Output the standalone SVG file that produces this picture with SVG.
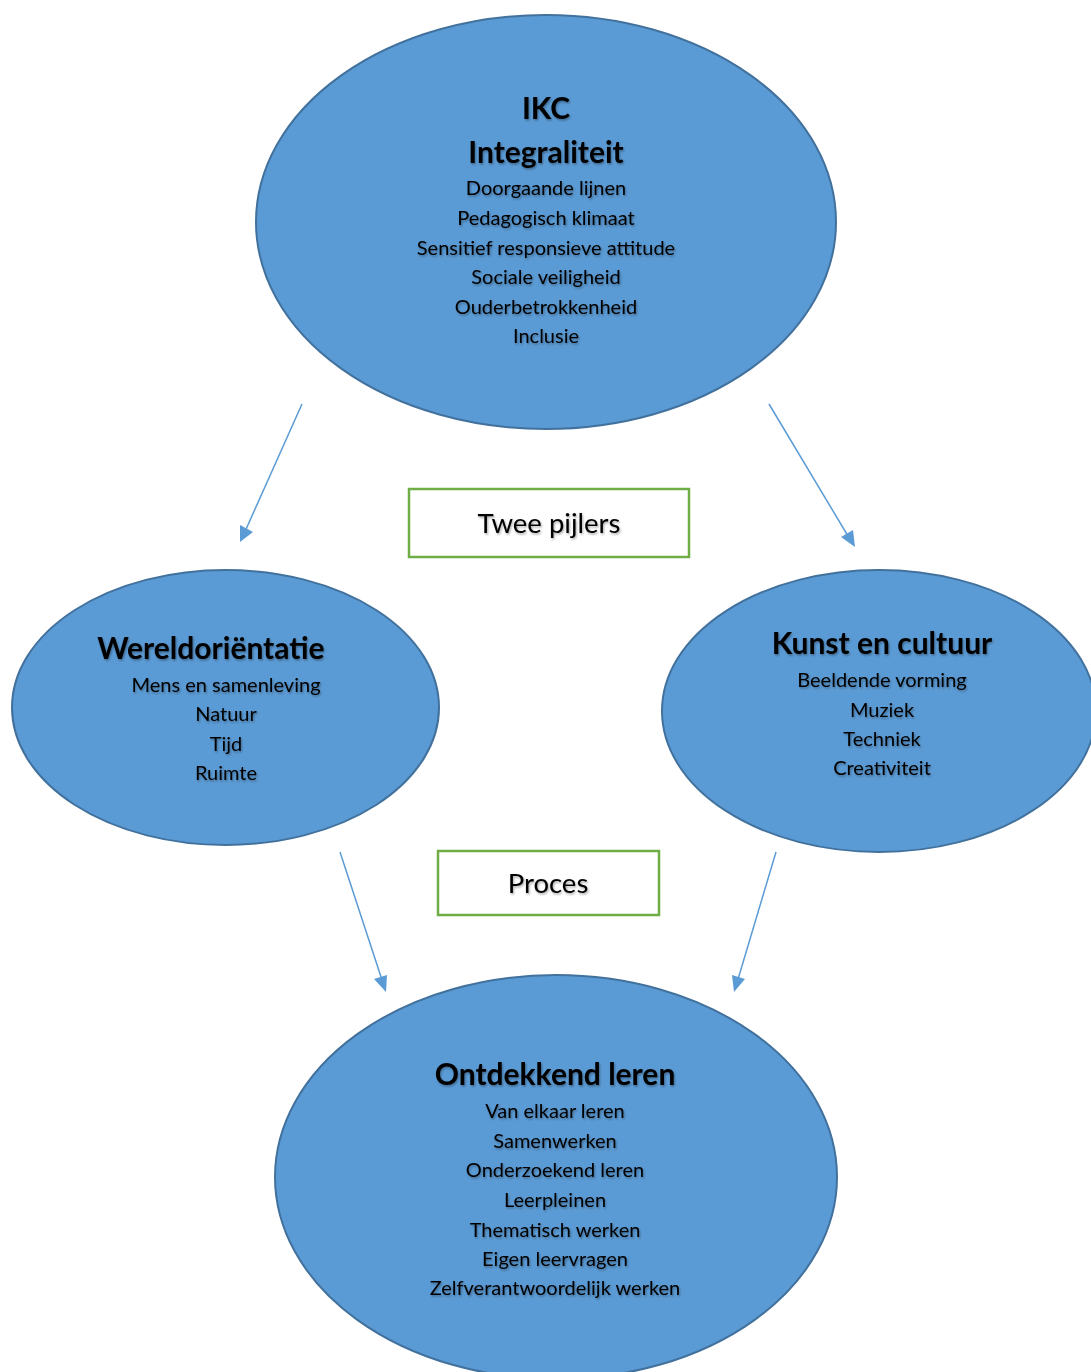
<svg xmlns="http://www.w3.org/2000/svg" width="1091" height="1372" viewBox="0 0 1091 1372">
<defs>
<filter id="sh" x="-10%" y="-30%" width="120%" height="160%">
<feDropShadow dx="1" dy="1.5" stdDeviation="1" flood-color="#000" flood-opacity="0.35"/>
</filter>
</defs>
<style>
.ell{fill:#5B9BD5;stroke:#41719C;stroke-width:2}
.box{fill:#fff;stroke:#70AD47;stroke-width:2.5}
.t{font-family:Lato,"Open Sans","Liberation Sans",sans-serif;text-anchor:middle;fill:#000;filter:url(#sh)}
.h{font-size:30px;font-weight:bold}
.s{font-size:20px}
.b{font-size:27.5px}
.con{stroke:#5B9BD5;stroke-width:1.5;fill:none}
.ah{fill:#5B9BD5}
</style>
<rect width="1091" height="1372" fill="#fff"/>
<g id="connectors">
<line class="con" x1="302" y1="404" x2="243" y2="536"/>
<polygon class="ah" points="240,542 240,525 253,532"/>
<line class="con" x1="769" y1="404" x2="851" y2="541"/>
<polygon class="ah" points="855,547 841,537 853,530"/>
<line class="con" x1="340" y1="852" x2="384" y2="986"/>
<polygon class="ah" points="386,992 374,979 387,975"/>
<line class="con" x1="776" y1="852" x2="736" y2="986"/>
<polygon class="ah" points="734,992 732,975 745,979"/>
</g>
<g id="ikc">
<ellipse class="ell" cx="546" cy="222" rx="290" ry="207"/>
<text class="t h" x="546" y="119">IKC</text>
<text class="t h" x="546" y="163">Integraliteit</text>
<text class="t s" x="546" y="195">Doorgaande lijnen</text>
<text class="t s" x="546" y="225">Pedagogisch klimaat</text>
<text class="t s" x="546" y="255">Sensitief responsieve attitude</text>
<text class="t s" x="546" y="284">Sociale veiligheid</text>
<text class="t s" x="546" y="314">Ouderbetrokkenheid</text>
<text class="t s" x="546" y="343">Inclusie</text>
</g>
<g id="twee-pijlers">
<rect class="box" x="409" y="489" width="280" height="68"/>
<text class="t b" x="549" y="533">Twee pijlers</text>
</g>
<g id="wereldorientatie">
<ellipse class="ell" cx="225.5" cy="707.5" rx="213.5" ry="137.5"/>
<text class="t h" x="211" y="659">Wereldoriëntatie</text>
<text class="t s" x="226" y="692">Mens en samenleving</text>
<text class="t s" x="226" y="721">Natuur</text>
<text class="t s" x="226" y="751">Tijd</text>
<text class="t s" x="226" y="780">Ruimte</text>
</g>
<g id="kunst-en-cultuur">
<ellipse class="ell" cx="879" cy="711" rx="217" ry="141"/>
<text class="t h" x="882" y="654">Kunst en cultuur</text>
<text class="t s" x="882" y="687">Beeldende vorming</text>
<text class="t s" x="882" y="717">Muziek</text>
<text class="t s" x="882" y="746">Techniek</text>
<text class="t s" x="882" y="775">Creativiteit</text>
</g>
<g id="proces">
<rect class="box" x="438" y="851" width="221" height="64"/>
<text class="t b" x="548" y="893">Proces</text>
</g>
<g id="ontdekkend-leren">
<ellipse class="ell" cx="556" cy="1177" rx="281" ry="202"/>
<text class="t h" x="555" y="1085">Ontdekkend leren</text>
<text class="t s" x="555" y="1118">Van elkaar leren</text>
<text class="t s" x="555" y="1148">Samenwerken</text>
<text class="t s" x="555" y="1177">Onderzoekend leren</text>
<text class="t s" x="555" y="1207">Leerpleinen</text>
<text class="t s" x="555" y="1237">Thematisch werken</text>
<text class="t s" x="555" y="1266">Eigen leervragen</text>
<text class="t s" x="555" y="1295">Zelfverantwoordelijk werken</text>
</g>
</svg>
